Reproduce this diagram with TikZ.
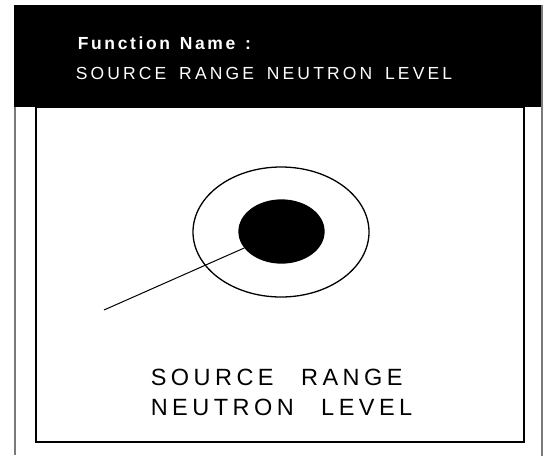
\documentclass[tikz,border=0pt]{standalone}
\usepackage{fontspec}
\usetikzlibrary{shapes.geometric, positioning}
\newfontfamily\hdrfont[LetterSpace=18, WordSpace=1.6]{Liberation Sans}
\newfontfamily\namefont[LetterSpace=15, WordSpace=1.3]{Liberation Sans}
\newfontfamily\lblfont[LetterSpace=19, WordSpace=2.5]{Liberation Sans}
\definecolor{rulegray}{HTML}{7A7A7A}

\tikzset{
  hdrtext/.style={text=white, inner sep=0pt, anchor=base west, font=\hdrfont\fontsize{17.5}{20}\selectfont},
  ring/.style={draw=black, line width=1.3pt, ellipse, inner sep=0pt},
}

\begin{document}
\begin{tikzpicture}[x=1pt, y=-1pt, line width=1.6pt]

% Frame
\useasboundingbox (0,0) rectangle (544,456);
\fill[black] (14,5) rectangle (542,107);
\draw[rulegray, line width=1.4pt] (15,107) -- (15,455);
\draw[rulegray, line width=1.4pt] (542,5) -- (542,456);
\draw[black] (36,107) rectangle (524,442);

% Header
\node[hdrtext, font=\namefont\bfseries\fontsize{17.5}{20}\selectfont] (fname) at (77,49) {Function Name :};
\node[hdrtext] (ftitle) at (75,79) {SOURCE RANGE NEUTRON LEVEL};

% Symbol
\node[ring, minimum width=176pt, minimum height=130pt] (outer) at (281,232) {};
\node[ring, fill=black, minimum width=85pt, minimum height=63pt] (core) at (281.5,231.5) {};

% Label
\node[anchor=west, inner sep=0pt, align=left, font=\lblfont\fontsize{23.5}{30}\selectfont] (lbl) at (150,392) {SOURCE RANGE\\NEUTRON LEVEL};

\coordinate (tail) at (104,310);
\draw[line width=1pt] (tail) -- (core);

\end{tikzpicture}
\end{document}
